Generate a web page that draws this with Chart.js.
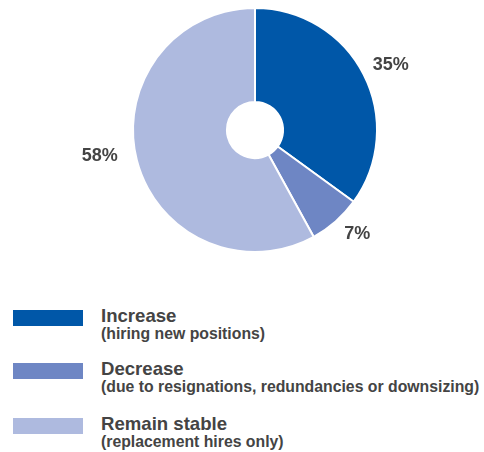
<!DOCTYPE html>
<html>
<head>
<meta charset="utf-8">
<script src="https://cdn.jsdelivr.net/npm/chart.js@4/dist/chart.umd.min.js"></script>
<style>
  html, body { margin: 0; padding: 0; background: #fff; }
  body { width: 484px; height: 452px; position: relative; overflow: hidden;
         font-family: "Liberation Sans", Arial, sans-serif; color: #444; }
  #wrap { position: absolute; left: 0; top: 0; width: 484px; height: 262px; }
  .row { position: absolute; left: 0; width: 484px; height: 40px; }
  .box { position: absolute; left: 13px; top: 0; width: 70px; height: 16px; }
  .title { position: absolute; left: 101px; top: -4px; font-size: 18.6px; line-height: 19px; font-weight: bold; white-space: nowrap; }
  .sub { position: absolute; left: 101px; top: 15px; font-size: 15.8px; line-height: 18px; font-weight: bold; white-space: nowrap; }
</style>
</head>
<body>
<div id="wrap"><canvas id="chartDonut"></canvas></div>
<div id="legend"></div>
<script>
// datos
const categorias = ['Increase', 'Decrease', 'Remain stable'];
const detalles = [
  '(hiring new positions)',
  '(due to resignations, redundancies or downsizing)',
  '(replacement hires only)'
];
const porcentajes = [35, 7, 58];
const colores = ['#0057a8', '#6e86c4', '#aebadf'];

// ajuste fino de la posición de cada etiqueta (px)
const ajustes = [[2, 3], [3, -8], [-10, -11]];

// etiquetas de % fuera del anillo
const pctLabels = {
  id: 'pctLabels',
  afterDatasetsDraw(chart) {
    const ctx = chart.ctx;
    const meta = chart.getDatasetMeta(0);
    ctx.save();
    ctx.font = 'bold 18px "Liberation Sans", Arial, sans-serif';
    ctx.fillStyle = '#444';
    ctx.textAlign = 'center';
    ctx.textBaseline = 'middle';
    meta.data.forEach((arc, i) => {
      const p = arc.getProps(['x', 'y', 'startAngle', 'endAngle', 'outerRadius'], true);
      const mid = (p.startAngle + p.endAngle) / 2;
      const r = p.outerRadius + 28;
      ctx.fillText(porcentajes[i] + '%',
        p.x + Math.cos(mid) * r + ajustes[i][0],
        p.y + Math.sin(mid) * r + ajustes[i][1]);
    });
    ctx.restore();
  }
};

new Chart(document.getElementById('chartDonut'), {
  type: 'doughnut',
  data: {
    labels: categorias,
    datasets: [{
      data: porcentajes,
      backgroundColor: colores,
      borderColor: '#ffffff',
      borderWidth: 2
    }]
  },
  options: {
    responsive: true,
    maintainAspectRatio: false,
    animation: false,
    cutout: '23%',
    layout: { padding: { left: 26, top: 7, bottom: 9, right: 0 } },
    plugins: { legend: { display: false }, tooltip: { enabled: false } }
  },
  plugins: [pctLabels]
});

// leyenda HTML
const legend = document.getElementById('legend');
const tops = [310, 363, 418];
categorias.forEach((c, i) => {
  const row = document.createElement('div');
  row.className = 'row';
  row.style.top = tops[i] + 'px';
  row.innerHTML = '<div class="box" style="background:' + colores[i] + '"></div>' +
    '<div class="title">' + c + '</div><div class="sub">' + detalles[i] + '</div>';
  legend.appendChild(row);
});
</script>
</body>
</html>
